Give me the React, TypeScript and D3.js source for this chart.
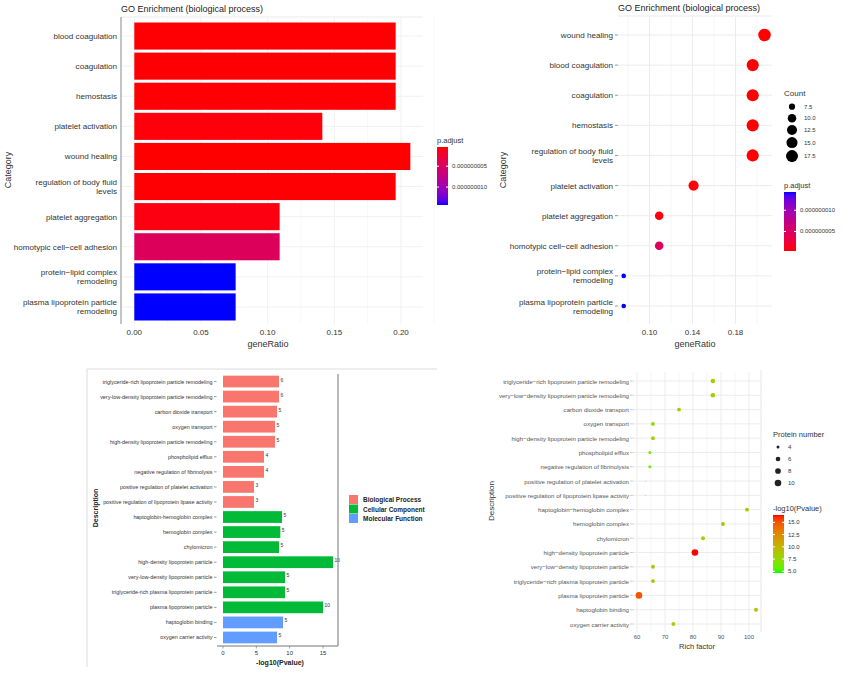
import React from "react";
import * as d3 from "d3";

// ---------- Top panels: GO enrichment (biological process) ----------
const barTerms = [
  "blood coagulation",
  "coagulation",
  "hemostasis",
  "platelet activation",
  "wound healing",
  "regulation of body fluid levels",
  "platelet aggregation",
  "homotypic cell−cell adhesion",
  "protein−lipid complex remodeling",
  "plasma lipoprotein particle remodeling",
];
const barRatios = [0.196, 0.196, 0.196, 0.141, 0.207, 0.196, 0.109, 0.109, 0.076, 0.076];
const barCounts = [18, 18, 18, 13, 19, 18, 10, 10, 7, 7];
const barPAdjust = [5e-10, 5e-10, 5e-10, 6e-10, 4e-10, 5e-10, 8e-10, 4.6e-9, 1.43e-8, 1.43e-8];
const dotOrder = [
  "wound healing",
  "blood coagulation",
  "coagulation",
  "hemostasis",
  "regulation of body fluid levels",
  "platelet activation",
  "platelet aggregation",
  "homotypic cell−cell adhesion",
  "protein−lipid complex remodeling",
  "plasma lipoprotein particle remodeling",
];
const tlTicks = [0, 0.05, 0.1, 0.15, 0.2];
const trTicks = [0.1, 0.14, 0.18];
const countBreaks = [7.5, 10, 12.5, 15, 17.5];
const pBreaks = [5e-9, 1e-8];

// ---------- Bottom panels ----------
const categories = ["Biological Process", "Cellular Component", "Molecular Function"];
const catColors = ["#F8766D", "#00BA38", "#619CFF"];
const bpTerms = [
  "triglyceride-rich lipoprotein particle remodeling",
  "very-low-density lipoprotein particle remodeling",
  "carbon dioxide transport",
  "oxygen transport",
  "high-density lipoprotein particle remodeling",
  "phospholipid efflux",
  "negative regulation of fibrinolysis",
  "positive regulation of platelet activation",
  "positive regulation of lipoprotein lipase activity",
];
const bpLogP = [8.4, 8.4, 8.1, 7.8, 7.8, 6.15, 6.15, 4.65, 4.65];
const bpCounts = [6, 6, 5, 5, 5, 4, 4, 3, 3];
const bpRich = [87.1, 87.1, 75, 65.7, 65.7, 64.6, 64.6, 63, 63];
const ccTerms = [
  "haptoglobin-hemoglobin complex",
  "hemoglobin complex",
  "chylomicron",
  "high-density lipoprotein particle",
  "very-low-density lipoprotein particle",
  "triglyceride-rich plasma lipoprotein particle",
  "plasma lipoprotein particle",
];
const ccLogP = [8.85, 8.6, 8.4, 16.5, 9.3, 9.3, 15.0];
const ccCounts = [5, 5, 5, 10, 5, 5, 10];
const ccRich = [99.3, 90.7, 83.6, 80.7, 65.7, 65.7, 60.7];
const mfTerms = ["haptoglobin binding", "oxygen carrier activity"];
const mfLogP = [9.0, 8.1];
const mfCounts = [5, 5];
const mfRich = [102.5, 73];
const blTicks = [0, 5, 10, 15];
const brTicks = [60, 70, 80, 90, 100];
const sizeBreaks = [4, 6, 8, 10];
const logPBreaks = [15, 12.5, 10, 7.5, 5];

const FONT = "'Liberation Sans', Arial, Helvetica, sans-serif";

function wrap(s: string, width: number): string[] {
  const words = s.split(" ");
  const lines: string[] = [];
  let cur = "";
  for (const w of words) {
    if (cur === "") cur = w;
    else if ((cur + " " + w).length > width) {
      lines.push(cur);
      cur = w;
    } else cur = cur + " " + w;
  }
  if (cur) lines.push(cur);
  return lines;
}

function gradientStops(scale: (v: number) => string, domain: [number, number], reverse: boolean) {
  const n = 20;
  const out: { off: number; color: string }[] = [];
  for (let i = 0; i <= n; i++) {
    const t = i / n;
    const v = reverse ? domain[1] - t * (domain[1] - domain[0]) : domain[0] + t * (domain[1] - domain[0]);
    out.push({ off: t * 100, color: scale(v) });
  }
  return out;
}

export default function App() {
  // ---- shared p.adjust colour ----
  const pMin = d3.min(barPAdjust)!;
  const pMax = d3.max(barPAdjust)!;
  const pColor = d3
    .scaleLinear<string>()
    .domain([pMin, pMax])
    .range(["#ff0000", "#0000ff"])
    .interpolate(d3.interpolateLab);

  // ---- top-left bar chart ----
  const tlX = d3.scaleLinear().domain([0, 0.2]).range([134.3, 401]);
  const tlY = d3.scaleBand().domain(barTerms).range([21, 322]).paddingInner(0.1).paddingOuter(0.05);
  const tlLeft = 121, tlRight = 423, tlTop = 17, tlBottom = 324;

  // ---- top-right dot plot ----
  const trX = d3.scaleLinear().domain([0.1, 0.18]).range([649.5, 735.5]);
  const trY = d3.scalePoint().domain(dotOrder).range([35, 306]);
  const trLeft = 618, trRight = 772;
  const cMin = d3.min(barCounts)!;
  const cMax = d3.max(barCounts)!;
  const trR = (c: number) => d3.scaleLinear().domain([0, 1]).range([2.29, 6.26])(Math.sqrt(Math.max(0, c - cMin) / (cMax - cMin)));
  const trMinor = [0.08, 0.12, 0.16, 0.2];
  const countKeys: { v: number; y: number; r: number }[] = [];
  {
    let y = 100.9;
    countBreaks.forEach((v) => {
      const r = trR(v);
      const h = Math.max(11.6, 2 * r + 2);
      countKeys.push({ v, y: y + h / 2, r });
      y += h;
    });
  }

  // ---- bottom-left bars ----
  const descs = [...bpTerms, ...ccTerms, ...mfTerms];
  const logP = [...bpLogP, ...ccLogP, ...mfLogP];
  const counts = [...bpCounts, ...ccCounts, ...mfCounts];
  const rich = [...bpRich, ...ccRich, ...mfRich];
  const cats = [
    ...bpTerms.map(() => 0),
    ...ccTerms.map(() => 1),
    ...mfTerms.map(() => 2),
  ];
  const blX = d3.scaleLinear().domain([0, 15]).range([223, 323]);
  const blY = d3.scaleBand().domain(descs).range([374, 645]).paddingInner(0.22).paddingOuter(0.11);

  // ---- bottom-right dots ----
  const brX = d3.scaleLinear().domain([60, 100]).range([637, 749]);
  const brY = d3.scalePoint().domain(descs).range([381, 624]);
  const lMin = d3.min(logP)!;
  const lMax = d3.max(logP)!;
  const lColor = d3
    .scaleLinear<string>()
    .domain([lMin, lMax])
    .range(["#00ff00", "#ff0000"])
    .interpolate(d3.interpolateLab);
  const nMin = d3.min(counts)!;
  const nMax = d3.max(counts)!;
  const brR = (c: number) => d3.scaleLinear().domain([0, 1]).range([0.41, 3.3])(Math.sqrt(Math.max(0, c - nMin) / (nMax - nMin)));
  const brLeft = 633, brRight = 761, brTop = 372, brBottom = 632;

  const tlStops = gradientStops(pColor, [pMin, pMax], false);
  const trStops = gradientStops(pColor, [pMin, pMax], true);
  const brStops = gradientStops(lColor, [lMin, lMax], true);

  const tlLegY = d3.scaleLinear().domain([pMin, pMax]).range([147, 205]);
  const trLegY = d3.scaleLinear().domain([pMin, pMax]).range([251, 192]);
  const brLegY = d3.scaleLinear().domain([lMin, lMax]).range([573, 515]);

  return (
    <svg
      width={857}
      height={683}
      style={{ position: "absolute", left: 0, top: 0, background: "#fff" }}
      fontFamily={FONT}
    >
      <defs>
        <linearGradient id="gTL" x1="0" y1="0" x2="0" y2="1">
          {tlStops.map((s, i) => (
            <stop key={i} offset={`${s.off}%`} stopColor={s.color} />
          ))}
        </linearGradient>
        <linearGradient id="gTR" x1="0" y1="0" x2="0" y2="1">
          {trStops.map((s, i) => (
            <stop key={i} offset={`${s.off}%`} stopColor={s.color} />
          ))}
        </linearGradient>
        <linearGradient id="gBR" x1="0" y1="0" x2="0" y2="1">
          {brStops.map((s, i) => (
            <stop key={i} offset={`${s.off}%`} stopColor={s.color} />
          ))}
        </linearGradient>
      </defs>
      <rect x={0} y={0} width={857} height={683} fill="#fff" />

      {/* ================= TOP-LEFT ================= */}
      <g>
        <text x={tlLeft} y={9} fontSize={9} fill="#222" dominantBaseline="central">
          GO Enrichment (biological process)
        </text>
        <line x1={tlLeft} x2={tlRight} y1={tlTop} y2={tlTop} stroke="#ebebeb" />
        {d3.range(0, 0.226, 0.025).map((v, i) => (
          <line key={"tg" + i} x1={tlX(v)} x2={tlX(v)} y1={tlTop} y2={tlBottom} stroke={i % 2 ? "#f8f8f8" : "#f1f1f1"} />
        ))}
        {barTerms.map((t) => (
          <line key={"th" + t} x1={tlLeft} x2={tlRight} y1={tlY(t)! + tlY.bandwidth() / 2} y2={tlY(t)! + tlY.bandwidth() / 2} stroke="#f1f1f1" />
        ))}
        {barTerms.map((t, i) => (
          <rect key={"tb" + t} x={tlX(0)} y={tlY(t)} width={tlX(barRatios[i]) - tlX(0)} height={tlY.bandwidth()} fill={pColor(barPAdjust[i])} />
        ))}
        <line x1={tlLeft} x2={tlLeft} y1={tlTop} y2={tlBottom} stroke="#888" />
        {barTerms.map((t) => {
          const lines = wrap(t, 30);
          const cy = tlY(t)! + tlY.bandwidth() / 2;
          return (
            <text key={"tl" + t} x={117} y={cy - ((lines.length - 1) * 9) / 2} fontSize={8.1} fill="#333" textAnchor="end" dominantBaseline="central">
              {lines.map((l, k) => (
                <tspan key={k} x={117} dy={k === 0 ? 0 : 9}>
                  {l}
                </tspan>
              ))}
            </text>
          );
        })}
        {tlTicks.map((v) => (
          <text key={"tx" + v} x={tlX(v)} y={332} fontSize={8} fill="#333" textAnchor="middle" dominantBaseline="central">
            {d3.format(".2f")(v)}
          </text>
        ))}
        <text x={268} y={343.5} fontSize={9} fill="#333" textAnchor="middle" dominantBaseline="central">
          geneRatio
        </text>
        <text transform="translate(8,170) rotate(-90)" fontSize={9} fill="#333" textAnchor="middle" dominantBaseline="central">
          Category
        </text>
        <text x={437} y={140} fontSize={7.5} fill="#333" dominantBaseline="central">
          p.adjust
        </text>
        <rect x={437} y={147} width={11} height={58} fill="url(#gTL)" />
        {pBreaks.map((v) => (
          <g key={"tlp" + v}>
            <line x1={437} x2={439} y1={tlLegY(v)} y2={tlLegY(v)} stroke="#fff" />
            <line x1={446} x2={448} y1={tlLegY(v)} y2={tlLegY(v)} stroke="#fff" />
            <text x={452} y={tlLegY(v)} fontSize={6} fill="#333" dominantBaseline="central">
              {v.toFixed(9)}
            </text>
          </g>
        ))}
      </g>

      {/* ================= TOP-RIGHT ================= */}
      <g>
        <text x={trLeft} y={8} fontSize={9} fill="#222" dominantBaseline="central">
          GO Enrichment (biological process)
        </text>
        <line x1={trLeft} x2={trRight} y1={16} y2={16} stroke="#ebebeb" />
        {trMinor.map((v) => (
          <line key={"trm" + v} x1={trX(v)} x2={trX(v)} y1={17} y2={324} stroke="#f6f6f6" />
        ))}
        {trTicks.map((v) => (
          <line key={"trg" + v} x1={trX(v)} x2={trX(v)} y1={17} y2={324} stroke="#ececec" />
        ))}
        {dotOrder.map((t) => (
          <g key={"trh" + t}>
            <line x1={trLeft} x2={trRight} y1={trY(t)} y2={trY(t)} stroke="#ececec" />
            <line x1={trLeft - 3} x2={trLeft} y1={trY(t)} y2={trY(t)} stroke="#999" />
          </g>
        ))}
        {dotOrder.map((t) => {
          const i = barTerms.indexOf(t);
          return <circle key={"trc" + t} cx={trX(barRatios[i])} cy={trY(t)} r={trR(barCounts[i])} fill={pColor(barPAdjust[i])} />;
        })}
        {dotOrder.map((t) => {
          const lines = wrap(t, 30);
          const cy = trY(t)!;
          return (
            <text key={"trl" + t} x={613} y={cy - ((lines.length - 1) * 9) / 2} fontSize={8.1} fill="#333" textAnchor="end" dominantBaseline="central">
              {lines.map((l, k) => (
                <tspan key={k} x={613} dy={k === 0 ? 0 : 9}>
                  {l}
                </tspan>
              ))}
            </text>
          );
        })}
        {trTicks.map((v) => (
          <text key={"trx" + v} x={trX(v)} y={332} fontSize={8} fill="#333" textAnchor="middle" dominantBaseline="central">
            {d3.format(".2f")(v)}
          </text>
        ))}
        <text x={695} y={343.5} fontSize={9} fill="#333" textAnchor="middle" dominantBaseline="central">
          geneRatio
        </text>
        <text transform="translate(503,170) rotate(-90)" fontSize={9} fill="#333" textAnchor="middle" dominantBaseline="central">
          Category
        </text>
        <text x={784} y={93} fontSize={8} fill="#333" dominantBaseline="central">
          Count
        </text>
        {countKeys.map((k) => (
          <g key={"ck" + k.v}>
            <circle cx={792} cy={k.y} r={k.r} fill="#000" />
            <text x={804} y={k.y} fontSize={6} fill="#333" dominantBaseline="central">
              {k.v.toFixed(1)}
            </text>
          </g>
        ))}
        <text x={784} y={185} fontSize={7.5} fill="#333" dominantBaseline="central">
          p.adjust
        </text>
        <rect x={784} y={192} width={12} height={59} fill="url(#gTR)" />
        {pBreaks.map((v) => (
          <g key={"trp" + v}>
            <line x1={784} x2={786} y1={trLegY(v)} y2={trLegY(v)} stroke="#fff" />
            <line x1={794} x2={796} y1={trLegY(v)} y2={trLegY(v)} stroke="#fff" />
            <text x={800} y={trLegY(v)} fontSize={6} fill="#333" dominantBaseline="central">
              {v.toFixed(9)}
            </text>
          </g>
        ))}
      </g>

      {/* ================= BOTTOM-LEFT ================= */}
      <g>
        <line x1={87} x2={437} y1={369} y2={369} stroke="#dcdcdc" />
        <line x1={87} x2={87} y1={369} y2={667} stroke="#dcdcdc" />
        {descs.map((d, i) => (
          <g key={"bl" + i}>
            <rect x={blX(0)} y={blY(d)} width={blX(logP[i]) - blX(0)} height={blY.bandwidth()} fill={catColors[cats[i]]} />
            <text x={blX(logP[i]) + 1.5} y={blY(d)! + blY.bandwidth() / 2 - 2} fontSize={5} fill="#333" dominantBaseline="central">
              {counts[i]}
            </text>
            <text x={212.5} y={blY(d)! + blY.bandwidth() / 2} fontSize={5.4} fill="#333" textAnchor="end" dominantBaseline="central">
              {d}
            </text>
            <line x1={214} x2={216.5} y1={blY(d)! + blY.bandwidth() / 2} y2={blY(d)! + blY.bandwidth() / 2} stroke="#555" strokeWidth={0.6} />
          </g>
        ))}
        <line x1={217} x2={338} y1={646} y2={646} stroke="#777" />
        <line x1={338} x2={338} y1={374} y2={646} stroke="#777" />
        {blTicks.map((v) => (
          <g key={"blt" + v}>
            <line x1={blX(v)} x2={blX(v)} y1={646} y2={648.5} stroke="#777" strokeWidth={0.7} />
            <text x={blX(v)} y={652.5} fontSize={6} fill="#333" textAnchor="middle" dominantBaseline="central">
              {v}
            </text>
          </g>
        ))}
        <text x={280} y={662} fontSize={7} fontWeight="bold" fill="#222" textAnchor="middle" dominantBaseline="central">
          -log10(Pvalue)
        </text>
        <text transform="translate(95,508) rotate(-90)" fontSize={7} fontWeight="bold" fill="#222" textAnchor="middle" dominantBaseline="central">
          Description
        </text>
        {categories.map((c, i) => (
          <g key={"bll" + c}>
            <rect x={349} y={495 + i * 9.5} width={9} height={9} fill={catColors[i]} />
            <text x={363} y={499.5 + i * 9.5} fontSize={6.5} fontWeight="bold" fill="#222" dominantBaseline="central">
              {c}
            </text>
          </g>
        ))}
      </g>

      {/* ================= BOTTOM-RIGHT ================= */}
      <g>
        {d3.range(57.5, 105, 2.5)
          .filter((v) => brX(v) > brLeft && brX(v) < brRight)
          .map((v) => (
            <line key={"brg" + v} x1={brX(v)} x2={brX(v)} y1={brTop} y2={brBottom} stroke={v % 10 === 0 ? "#ececec" : v % 5 === 0 ? "#f5f5f5" : "none"} />
          ))}
        {descs.map((d, i) => (
          <g key={"brh" + i}>
            <line x1={brLeft} x2={brRight} y1={brY(d)} y2={brY(d)} stroke="#ececec" />
            <line x1={brLeft - 3} x2={brLeft} y1={brY(d)} y2={brY(d)} stroke="#aaa" strokeWidth={0.6} />
            <text x={629} y={brY(d)} fontSize={6.1} fill="#555" textAnchor="end" dominantBaseline="central">
              {d.replace(/-/g, "−")}
            </text>
          </g>
        ))}
        <line x1={brRight} x2={brRight} y1={370} y2={brBottom} stroke="#e6e6e6" />
        {descs.map((d, i) => (
          <circle key={"brc" + i} cx={brX(rich[i])} cy={brY(d)} r={brR(counts[i])} fill={lColor(logP[i])} />
        ))}
        {brTicks.map((v) => (
          <text key={"brx" + v} x={brX(v)} y={637} fontSize={6} fill="#555" textAnchor="middle" dominantBaseline="central">
            {v}
          </text>
        ))}
        <text x={697} y={646.5} fontSize={7.5} fill="#333" textAnchor="middle" dominantBaseline="central">
          Rich factor
        </text>
        <text transform="translate(491,501) rotate(-90)" fontSize={8} fill="#333" textAnchor="middle" dominantBaseline="central">
          Description
        </text>
        <text x={773} y={434} fontSize={7.5} fill="#333" dominantBaseline="central">
          Protein number
        </text>
        {sizeBreaks.map((v, i) => (
          <g key={"brs" + v}>
            <circle cx={778} cy={447 + i * 12} r={brR(v)} fill="#222" />
            <text x={788} y={447 + i * 12} fontSize={6} fill="#333" dominantBaseline="central">
              {v}
            </text>
          </g>
        ))}
        <text x={773} y={508} fontSize={7.5} fill="#333" dominantBaseline="central">
          -log10(Pvalue)
        </text>
        <rect x={773} y={515} width={11} height={58} fill="url(#gBR)" />
        {logPBreaks.map((v) => (
          <g key={"brl" + v}>
            <line x1={773} x2={775} y1={brLegY(v)} y2={brLegY(v)} stroke="#fff" />
            <line x1={782} x2={784} y1={brLegY(v)} y2={brLegY(v)} stroke="#fff" />
            <text x={788} y={brLegY(v)} fontSize={6} fill="#333" dominantBaseline="central">
              {v.toFixed(1)}
            </text>
          </g>
        ))}
      </g>
    </svg>
  );
}
